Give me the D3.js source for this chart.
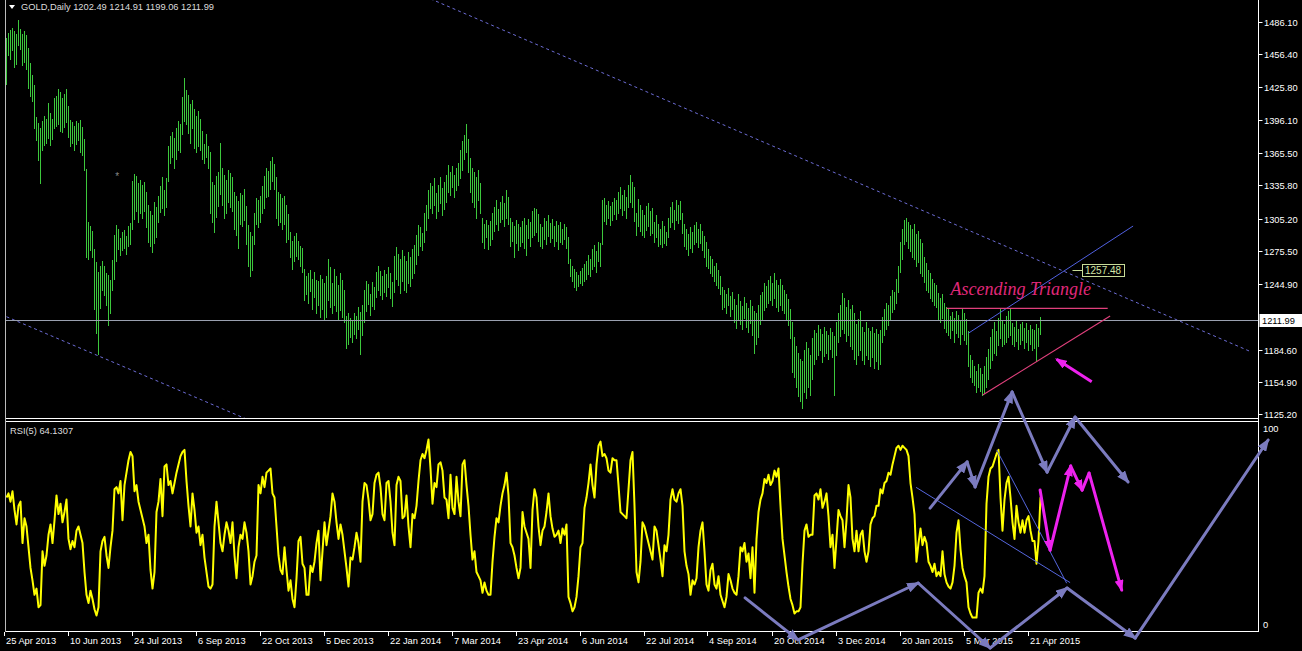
<!DOCTYPE html>
<html>
<head>
<meta charset="utf-8">
<script src="https://cdn.jsdelivr.net/npm/d3@7"></script>
<style>
  html, body { margin: 0; padding: 0; background: #000; overflow: hidden; }
  svg { display: block; }
  text { font-family: "Liberation Sans", Arial, sans-serif; }
</style>
</head>
<body>
<svg id="chart"></svg>
<script>
// ---- data ----
const symbolTitle = 'GOLD,Daily';
const lastOHLC = ['1202.49', '1214.91', '1199.06', '1211.99'];
const lastPrice = 1211.99;
const rsiTitle = 'RSI(5) 64.1307';

// daily highs, one per bar (25 Apr 2013 ->)
const high = [
  1471,1476,1478,1480,1477,1475,1488,1479,1475,1477,
  1474,1462,1448,1437,1428,1398,1393,1388,1395,1399,
  1397,1411,1402,1397,1416,1418,1424,1421,1416,1420,
  1424,1409,1396,1394,1390,1395,1393,1396,1389,1378,
  1351,1302,1298,1294,1277,1265,1256,1262,1266,1262,
  1255,1253,1249,1267,1290,1299,1296,1287,1293,1295,
  1289,1298,1301,1340,1346,1344,1338,1341,1336,1339,
  1330,1318,1312,1308,1320,1316,1326,1335,1343,1331,
  1342,1372,1381,1385,1379,1388,1395,1392,1417,1434,
  1423,1419,1410,1414,1406,1399,1404,1397,1386,1374,
  1383,1372,1366,1339,1336,1344,1348,1375,1352,1345,
  1341,1350,1347,1343,1330,1326,1321,1329,1327,1332,
  1317,1299,1293,1289,1310,1324,1322,1326,1335,1344,
  1352,1349,1358,1362,1355,1343,1330,1328,1324,1326,
  1318,1309,1293,1285,1289,1292,1285,1280,1278,1259,
  1252,1255,1258,1250,1256,1249,1248,1253,1250,1246,
  1252,1268,1261,1246,1259,1252,1244,1255,1249,1240,
  1216,1218,1214,1212,1218,1216,1224,1219,1226,1240,
  1248,1245,1236,1247,1242,1256,1262,1257,1252,1258,
  1254,1261,1255,1247,1271,1279,1273,1268,1276,1271,
  1266,1274,1270,1277,1281,1290,1299,1297,1292,1310,
  1318,1331,1338,1335,1342,1329,1336,1343,1333,1339,
  1345,1354,1348,1353,1345,1352,1356,1368,1376,1382,
  1392,1378,1361,1352,1348,1343,1350,1338,1306,1300,
  1304,1299,1303,1310,1316,1322,1314,1320,1326,1319,
  1331,1325,1306,1302,1298,1304,1300,1297,1303,1306,
  1299,1305,1302,1312,1315,1314,1309,1300,1297,1306,
  1303,1308,1301,1305,1298,1303,1299,1302,1296,1300,
  1297,1288,1268,1262,1259,1256,1253,1257,1260,1263,
  1266,1272,1268,1277,1281,1275,1284,1283,1322,1324,
  1318,1321,1317,1320,1324,1322,1330,1334,1327,1331,
  1325,1336,1345,1339,1334,1310,1323,1318,1313,1308,
  1317,1319,1312,1315,1302,1308,1300,1296,1303,1298,
  1293,1306,1316,1320,1313,1322,1318,1321,1310,1300,
  1296,1291,1297,1293,1299,1302,1296,1300,1294,1289,
  1284,1277,1271,1268,1262,1264,1258,1252,1242,1240,
  1236,1241,1234,1238,1231,1226,1236,1229,1225,1233,
  1228,1223,1230,1225,1220,1218,1226,1235,1238,1246,
  1243,1249,1252,1246,1255,1249,1244,1250,1244,1240,
  1236,1231,1222,1210,1196,1188,1182,1176,1174,1184,
  1192,1186,1180,1195,1203,1200,1207,1204,1199,1206,
  1202,1198,1205,1201,1197,1210,1218,1226,1237,1232,
  1224,1230,1222,1226,1218,1208,1213,1220,1206,1201,
  1210,1205,1202,1206,1200,1204,1199,1203,1215,1222,
  1228,1226,1234,1240,1238,1250,1262,1284,1296,1304,
  1306,1302,1299,1296,1300,1291,1294,1286,1283,1270,
  1264,1258,1255,1250,1246,1244,1237,1232,1236,1228,
  1224,1222,1216,1219,1214,1220,1217,1212,1223,1218,
  1213,1202,1180,1175,1170,1165,1172,1168,1162,1170,
  1178,1185,1196,1204,1210,1202,1214,1222,1212,1208,
  1216,1220,1223,1209,1206,1211,1204,1208,1210,1205,
  1209,1203,1207,1204,1203,1208,1205,1214.91
];

const low = [
  1429,1455,1452,1460,1444,1447,1465,1461,1446,1449,
  1443,1425,1418,1413,1388,1377,1359,1338,1368,1373,
  1375,1379,1373,1378,1388,1390,1392,1386,1385,1389,
  1394,1380,1372,1375,1368,1374,1377,1366,1364,1350,
  1270,1268,1276,1270,1222,1200,1181,1223,1240,1235,
  1226,1207,1218,1240,1250,1266,1277,1272,1276,1278,
  1273,1280,1282,1296,1305,1312,1302,1310,1306,1312,
  1297,1284,1280,1274,1283,1288,1302,1311,1315,1308,
  1316,1340,1356,1362,1352,1360,1368,1366,1383,1395,
  1392,1384,1375,1388,1370,1366,1372,1368,1360,1356,
  1362,1352,1310,1302,1293,1307,1317,1328,1318,1306,
  1310,1320,1316,1312,1296,1290,1278,1300,1298,1304,
  1282,1262,1252,1258,1282,1300,1297,1302,1310,1315,
  1325,1326,1332,1340,1332,1306,1299,1302,1296,1300,
  1284,1286,1270,1259,1266,1271,1268,1262,1256,1230,
  1236,1228,1239,1222,1233,1218,1226,1215,1222,1213,
  1215,1230,1224,1218,1226,1220,1212,1221,1215,1210,
  1186,1190,1196,1192,1199,1195,1204,1181,1198,1210,
  1220,1227,1217,1225,1222,1233,1240,1235,1231,1238,
  1234,1242,1232,1225,1238,1250,1244,1237,1248,1240,
  1238,1246,1243,1251,1255,1263,1272,1280,1276,1284,
  1295,1306,1315,1310,1318,1306,1312,1319,1308,1314,
  1320,1330,1327,1334,1325,1331,1336,1342,1350,1360,
  1366,1348,1330,1320,1316,1306,1322,1310,1284,1278,
  1288,1277,1281,1286,1294,1300,1295,1302,1305,1298,
  1306,1300,1280,1285,1270,1283,1276,1280,1284,1278,
  1272,1287,1280,1288,1290,1293,1285,1280,1278,1286,
  1282,1289,1284,1287,1280,1285,1277,1284,1282,1286,
  1278,1264,1252,1248,1242,1240,1243,1246,1244,1248,
  1250,1254,1252,1259,1262,1256,1266,1262,1282,1303,
  1300,1306,1299,1304,1309,1305,1310,1315,1308,1313,
  1306,1316,1320,1316,1303,1290,1298,1294,1290,1288,
  1295,1298,1290,1292,1284,1288,1280,1282,1279,1283,
  1281,1288,1297,1302,1296,1304,1301,1305,1292,1280,
  1277,1272,1278,1274,1282,1284,1279,1283,1276,1270,
  1262,1260,1255,1252,1248,1244,1241,1236,1222,1224,
  1218,1226,1216,1222,1210,1205,1213,1208,1204,1214,
  1206,1201,1209,1198,1182,1190,1196,1208,1212,1221,
  1224,1228,1230,1226,1232,1224,1220,1226,1221,1218,
  1212,1207,1195,1164,1160,1150,1142,1138,1131,1146,
  1140,1150,1143,1158,1172,1176,1180,1184,1173,1179,
  1182,1176,1185,1178,1143,1180,1192,1197,1204,1200,
  1193,1198,1188,1185,1176,1172,1180,1184,1175,1172,
  1180,1176,1170,1178,1168,1174,1167,1172,1192,1198,
  1204,1207,1212,1219,1222,1228,1238,1256,1268,1282,
  1285,1278,1275,1270,1268,1262,1265,1255,1252,1247,
  1240,1238,1232,1229,1226,1224,1212,1210,1214,1205,
  1201,1198,1195,1203,1192,1200,1196,1190,1199,1194,
  1190,1170,1160,1155,1152,1146,1150,1147,1143,1145,
  1150,1158,1168,1175,1182,1180,1189,1195,1188,1190,
  1192,1196,1198,1190,1188,1193,1185,1190,1194,1186,
  1192,1184,1190,1184,1186,1174,1188,1199.06
];

// RSI(5), one per bar
const rsi = [
  64,66,62,67,58,51,60,62,42,54,50,
  40,30,24,17,20,11,12,38,31,36,
  46,51,42,53,65,56,61,52,57,63,
  44,39,43,40,48,50,46,42,28,17,
  13,19,15,10,7,11,38,43,45,36,
  30,40,48,68,69,66,72,53,70,76,
  82,86,84,67,70,62,58,54,50,42,
  46,29,20,28,57,62,73,55,79,80,
  70,72,66,71,76,80,84,86,87,72,
  60,50,66,58,47,50,41,46,35,28,
  21,20,22,50,62,52,42,38,46,52,
  48,42,52,36,25,40,46,44,52,47,
  38,22,26,33,36,70,66,74,69,76,
  77,78,66,64,50,36,29,27,40,29,
  19,24,15,11,25,43,45,32,30,17,
  17,31,28,33,42,48,24,38,52,41,
  48,55,66,62,52,44,51,46,38,30,
  21,35,34,40,47,42,33,62,71,70,
  63,53,56,71,75,76,69,56,53,71,
  72,62,47,41,70,74,72,54,55,65,
  50,40,56,54,60,72,82,85,83,87,
  92,78,61,71,69,80,81,77,64,63,
  54,75,59,56,74,62,55,80,82,70,
  60,46,34,38,28,26,24,18,23,19,
  17,17,33,45,54,52,60,66,70,76,
  65,42,40,36,30,25,30,57,50,47,
  44,30,58,68,64,50,41,48,50,57,
  66,55,49,45,46,48,42,49,46,51,
  16,13,9,11,16,26,40,42,59,64,
  71,80,70,64,80,89,91,84,85,83,
  77,76,83,82,82,70,57,56,55,54,
  68,82,86,60,28,23,33,52,50,46,
  42,38,34,50,48,41,34,26,41,38,
  46,63,68,63,62,66,68,60,38,31,
  27,17,24,22,25,40,48,52,38,22,
  19,29,32,22,20,26,17,14,11,16,
  27,24,20,18,17,26,40,38,42,33,
  37,25,40,18,44,57,63,66,73,71,
  75,70,72,77,74,78,60,44,36,28,
  21,15,12,8,9,9,11,32,48,51,
  45,46,46,65,66,63,68,59,62,66,
  55,40,46,30,44,58,55,53,40,53,
  70,64,44,38,48,38,46,48,38,33,
  38,51,54,55,60,60,68,66,71,72,
  76,75,80,84,88,89,87,89,88,87,
  84,71,64,56,33,42,49,41,45,42,
  33,31,28,32,26,28,26,38,27,23,
  21,20,23,31,47,53,39,30,26,23,
  11,8,6,6,6,18,20,18,26,61,
  74,78,79,82,85,87,64,48,63,71,
  74,64,52,44,60,52,47,53,47,53,
  55,48,43,43,32,43,64.13
];

const priceTicks = [1486.10, 1456.40, 1425.80, 1396.10, 1365.50, 1335.80, 1305.20, 1275.50, 1244.90, 1184.60, 1154.90, 1125.20];
const rsiTicks = [100, 0];
const dateLabels = ['25 Apr 2013', '10 Jun 2013', '24 Jul 2013', '6 Sep 2013', '22 Oct 2013', '5 Dec 2013',
  '22 Jan 2014', '7 Mar 2014', '23 Apr 2014', '6 Jun 2014', '22 Jul 2014', '4 Sep 2014',
  '20 Oct 2014', '3 Dec 2014', '20 Jan 2015', '5 Mar 2015', '21 Apr 2015'];
const barsPerLabel = 32;

// drawn objects, [bar index, price] or [bar index, rsi]
const upperChannel = [[212, 1507], [622, 1183]];
const lowerChannel = [[0, 1215], [120, 1121]];
const blueRay = [[480.9, 1199.8], [563.3, 1298.3]];
const triangleTop = [[470.1, 1222.7], [550.6, 1222.7]];
const triangleBottom = [[488.1, 1143.1], [551.8, 1215.7]];
const triangleText = { bar: 472, price: 1234.5, text: 'Ascending Triangle' };
const targetLevel = { from: 533, to: 538, price: 1257.48 };
const priceArrow = [[542.6, 1155.3], [525.1, 1175.9]];
const rsiWedgeA = [[454.8, 68.9], [531.8, 22.9]];
const rsiWedgeB = [[495.1, 87], [530.1, 22.6]];
const waveUpper = [[461.8, 58.9], [480.3, 81.2], [484.3, 69.1], [502.8, 115], [520.3, 76.3], [534.3, 102.9], [560.8, 71.5]];
const waveLower = [[369.3, 15.5], [395.8, -4.8], [455.8, 22.7], [491.8, -8.7], [530.3, 20.3], [564.3, -3.9], [630.8, 91.8]];
const waveMagenta = [[516.8, 67.6], [521.8, 38.6], [532.1, 79.2], [537.8, 67.6], [541.3, 75.8], [557.6, 19.3]];
const magentaHeads = [1, 1, 1, 0, 1];
const starMark = [55.3, 1344];

if (high.length !== low.length || high.length !== rsi.length) {
  throw new Error('length mismatch ' + high.length + ' ' + low.length + ' ' + rsi.length);
}

// ---- layout ----
const W = 1302, H = 651;
const left = 5.5, right = 1258.5;
const sepA = 418.5, sepB = 421.5, bottom = 631.5;

const svg = d3.select('#chart').attr('width', W).attr('height', H);
svg.append('rect').attr('width', W).attr('height', H).attr('fill', '#000');

const defs = svg.append('defs');
defs.append('clipPath').attr('id', 'clipPrice')
  .append('rect').attr('x', left).attr('y', 0).attr('width', right - left).attr('height', sepA);
defs.append('clipPath').attr('id', 'clipRsi')
  .append('rect').attr('x', left).attr('y', sepB).attr('width', right - left).attr('height', bottom - sepB);

function arrowHead(id, color, len, wid) {
  defs.append('marker').attr('id', id)
    .attr('viewBox', `0 0 ${len} ${wid}`)
    .attr('refX', len - 2).attr('refY', wid / 2)
    .attr('markerWidth', len).attr('markerHeight', wid)
    .attr('markerUnits', 'userSpaceOnUse')
    .attr('orient', 'auto')
    .append('path').attr('d', `M0,0L${len},${wid / 2}L0,${wid}Z`).attr('fill', color);
}
arrowHead('headWave', '#7b7bbf', 13, 10);
arrowHead('headMag', '#ee22ee', 12, 9);

const N = high.length;
const x = d3.scaleLinear().domain([0, N - 1]).range([6.5, 6.5 + 2 * (N - 1)]);
const yP = d3.scaleLinear().domain([1124.73, 1505.92]).range([415, 0]);
const yR = d3.scaleLinear().domain([0, 100]).range([630, 423]);

const gPrice = svg.append('g').attr('clip-path', 'url(#clipPrice)');
const gRsi = svg.append('g').attr('clip-path', 'url(#clipRsi)');

// bars
gPrice.append('g').selectAll('line')
  .data(d3.range(N))
  .join('line')
    .attr('x1', i => x(i)).attr('x2', i => x(i))
    .attr('y1', i => yP(high[i])).attr('y2', i => yP(low[i]) + 1)
    .attr('stroke', '#3cc83c').attr('stroke-width', 1)
    .attr('shape-rendering', 'crispEdges');

function seg(g, pts, ys, color, w, dash) {
  return g.append('line')
    .attr('x1', x(pts[0][0])).attr('y1', ys(pts[0][1]))
    .attr('x2', x(pts[1][0])).attr('y2', ys(pts[1][1]))
    .attr('stroke', color).attr('stroke-width', w)
    .attr('stroke-dasharray', dash || null);
}

// channel + lines
seg(gPrice, upperChannel, yP, '#6c6cd4', 1, '3,3');
seg(gPrice, lowerChannel, yP, '#6c6cd4', 1, '3,3');
gPrice.append('line')
  .attr('x1', left).attr('x2', right)
  .attr('y1', Math.round(yP(lastPrice)) + 0.5).attr('y2', Math.round(yP(lastPrice)) + 0.5)
  .attr('stroke', '#9aa0b0').attr('stroke-width', 1);
seg(gPrice, blueRay, yP, '#5060e0', 1);
seg(gPrice, triangleTop, yP, '#e0407c', 1.2);
seg(gPrice, triangleBottom, yP, '#e0407c', 1.2);

svg.append('text')
  .attr('x', x(triangleText.bar)).attr('y', yP(triangleText.price))
  .attr('fill', '#e0287a')
  .style('font-family', '"Liberation Serif", "DejaVu Serif", serif')
  .style('font-style', 'italic')
  .style('font-size', '18px')
  .text(triangleText.text);

// 1257.48 level tag
const ty = Math.round(yP(targetLevel.price)) + 0.5;
svg.append('line').attr('x1', x(targetLevel.from)).attr('x2', x(targetLevel.to))
  .attr('y1', ty).attr('y2', ty).attr('stroke', '#c8dc98');
svg.append('rect').attr('x', x(targetLevel.to)).attr('y', ty - 6)
  .attr('width', 42).attr('height', 12)
  .attr('fill', '#000').attr('stroke', '#c8dc98');
svg.append('text').attr('x', x(targetLevel.to) + 2.5).attr('y', ty).attr('dy', '0.35em')
  .attr('fill', '#d4e6a6').style('font-size', '10px').text(targetLevel.price.toFixed(2));

svg.append('text').attr('x', x(starMark[0])).attr('y', yP(starMark[1]) + 4)
  .attr('fill', '#888').attr('text-anchor', 'middle').style('font-size', '10px').text('*');

// rsi line
gRsi.append('path')
  .datum(rsi)
  .attr('d', d3.line().x((d, i) => x(i)).y(d => yR(d)))
  .attr('fill', 'none').attr('stroke', '#ffff00').attr('stroke-width', 2)
  .attr('stroke-linejoin', 'round');

seg(gRsi, rsiWedgeA, yR, '#5566dd', 1);
seg(gRsi, rsiWedgeB, yR, '#5566dd', 1);

// frame
const frame = svg.append('g').attr('stroke', '#fff').attr('stroke-width', 1).attr('shape-rendering', 'crispEdges');
frame.append('line').attr('x1', left).attr('x2', left).attr('y1', 0).attr('y2', bottom).attr('stroke', '#bbb');
frame.append('line').attr('x1', right).attr('x2', right).attr('y1', 0).attr('y2', bottom);
[sepA, sepB, bottom].forEach(yy => {
  frame.append('line').attr('x1', left).attr('x2', right).attr('y1', yy).attr('y2', yy);
});

// price axis
const pAxis = svg.append('g');
priceTicks.forEach(p => {
  const yy = Math.round(yP(p)) + 0.5;
  pAxis.append('line').attr('x1', right).attr('x2', right + 4).attr('y1', yy).attr('y2', yy)
    .attr('stroke', '#fff');
  pAxis.append('text').attr('x', 1264).attr('y', yy).attr('dy', '0.35em')
    .attr('fill', '#fff').style('font-size', '9.3px').text(p.toFixed(2));
});
const ly = Math.round(yP(lastPrice)) + 0.5;
pAxis.append('rect').attr('x', right + 1).attr('y', ly - 6.5).attr('width', W - right - 1).attr('height', 13)
  .attr('fill', '#fff');
pAxis.append('text').attr('x', 1262).attr('y', ly).attr('dy', '0.35em')
  .attr('fill', '#000').style('font-size', '9.3px').text(lastPrice.toFixed(2));

// rsi axis
rsiTicks.forEach(v => {
  svg.append('text').attr('x', 1263).attr('y', v === 100 ? yR(v) + 5.5 : yR(v) - 5)
    .attr('dy', '0.35em').attr('fill', '#fff').style('font-size', '9.3px').text(v);
});

// time axis
dateLabels.forEach((lab, k) => {
  const tx = Math.round(x(k * barsPerLabel) - 3) + 0.5;
  svg.append('line').attr('x1', tx).attr('x2', tx).attr('y1', bottom).attr('y2', bottom + 4)
    .attr('stroke', '#fff').attr('shape-rendering', 'crispEdges');
  svg.append('text').attr('x', tx + 1.5).attr('y', 644).attr('fill', '#fff')
    .style('font-size', '9.3px').text(lab);
});

// titles
svg.append('path').attr('d', 'M9,5L15,5L12,9Z').attr('fill', '#fff');
svg.append('text').attr('x', 21).attr('y', 9.5).attr('fill', '#ddd').style('font-size', '9.3px')
  .text(symbolTitle + '  ' + lastOHLC.join(' '));
svg.append('text').attr('x', 10).attr('y', 433.5).attr('fill', '#ddd').style('font-size', '9.3px')
  .text(rsiTitle);

// hand drawn arrows
function wave(pts, color, w, marker, heads) {
  const g = svg.append('g');
  for (let k = 0; k < pts.length - 1; k++) {
    g.append('line')
      .attr('x1', x(pts[k][0])).attr('y1', yR(pts[k][1]))
      .attr('x2', x(pts[k + 1][0])).attr('y2', yR(pts[k + 1][1]))
      .attr('stroke', color).attr('stroke-width', w)
      .attr('stroke-linecap', 'round')
      .attr('marker-end', (!heads || heads[k]) ? `url(#${marker})` : null);
  }
}
wave(waveUpper, '#7b7bbf', 3, 'headWave');
wave(waveLower, '#7b7bbf', 3, 'headWave');
wave(waveMagenta, '#ee22ee', 3, 'headMag', magentaHeads);

svg.append('line')
  .attr('x1', x(priceArrow[0][0])).attr('y1', yP(priceArrow[0][1]))
  .attr('x2', x(priceArrow[1][0])).attr('y2', yP(priceArrow[1][1]))
  .attr('stroke', '#ee22ee').attr('stroke-width', 3).attr('marker-end', 'url(#headMag)');
</script>
</body>
</html>
